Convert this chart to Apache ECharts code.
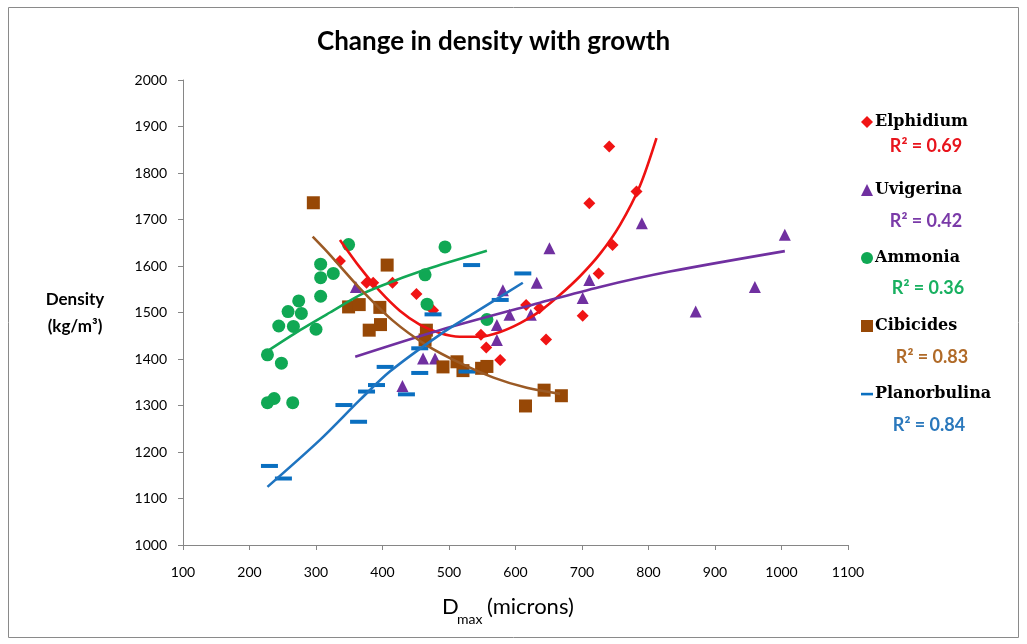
<!DOCTYPE html>
<html>
<head>
<meta charset="utf-8">
<script src="https://cdn.jsdelivr.net/npm/echarts@6/dist/echarts.min.js"></script>
<style>html,body{margin:0;padding:0;background:#fff;}#c{width:1027px;height:644px;}</style>
</head>
<body>
<div id="c"></div>
<script>
// ---------- data ----------
const titleText = 'Change in density with growth';
const speciesNames = ['Elphidium', 'Uvigerina', 'Ammonia', 'Cibicides', 'Planorbulina'];
const r2Labels = ['R² = 0.69', 'R² = 0.42', 'R² = 0.36', 'R² = 0.83', 'R² = 0.84'];

const elphidium = [[336,1611],[376,1564],[386,1564],[415,1564],[451,1540],[476,1505],[548,1452],[556,1425],[577,1398],[616,1516],[636,1509],[646,1442],[701,1493],[711,1735],[725,1584],[741,1857],[746,1645],[782,1760]];
const uvigerina = [[360,1555],[430,1342],[461,1401],[479,1401],[572,1441],[572,1473],[581,1548],[591,1495],[623,1495],[632,1564],[651,1638],[701,1531],[711,1570],[790,1692],[871,1502],[960,1555],[1005,1667]];
const ammonia = [[227,1409],[227,1306],[237,1315],[244,1471],[248,1391],[258,1502],[265,1306],[266,1470],[274,1525],[278,1498],[300,1464],[307,1604],[307,1575],[307,1535],[326,1584],[349,1646],[464,1581],[467,1518],[494,1641],[557,1485]];
const cibicides = [[296,1736],[349,1512],[365,1517],[380,1462],[396,1511],[397,1474],[407,1602],[464,1441],[466,1462],[491,1383],[512,1394],[521,1375],[549,1380],[557,1384],[615,1299],[643,1333],[669,1321]];
const planorbulina = [[230,1170],[251,1143],[342,1301],[364,1265],[376,1330],[391,1344],[404,1383],[436,1324],[456,1423],[456,1370],[476,1496],[527,1373],[534,1602],[577,1527],[611,1584]];

// trendlines
const elphidiumTrend = [[336,1656],[366,1597],[396,1546],[426,1504],[456,1474],[486,1456],[516,1448],[547,1448],[577,1458],[607,1477],[637,1503],[667,1538],[697,1578],[727,1626],[757,1688],[787,1772],[812,1875]];
const uvigerinaTrend = [[359,1405],[486,1462],[637,1521],[727,1555],[832,1588],[1005,1632]];
const ammoniaTrend = [[226,1416],[276,1462],[321,1500],[371,1541],[421,1570],[471,1595],[502,1609],[557,1633]];
const cibicidesTrend = [[295,1663],[321,1624],[366,1552],[416,1482],[466,1430],[517,1391],[567,1360],[617,1338],[667,1325]];
const planorbulinaTrend = [[227,1125],[306,1226],[366,1312],[411,1373],[486,1452],[537,1498],[611,1564]];

const xTicks = {min: 100, max: 1100, interval: 100};
const yTicks = {min: 1000, max: 2000, interval: 100};

// ---------- styling ----------
const markerColors = ['#f01414', '#7030a0', '#10a854', '#974806', '#0a6fc0'];
const lineColors   = ['#ee1111', '#7030a0', '#12a856', '#9b5a25', '#1f74c0'];
const r2Colors     = ['#e8141c', '#7a3aa8', '#18b060', '#b06a28', '#2a78bc'];
const symbols = ['diamond', 'triangle', 'circle', 'rect', 'rect'];
const symbolSizes = [12, 12, 13, 13, [17, 4]];
const dashIcon = 'path://M0,0L0,0M0,12L0,12M0,4.8h12v2.6h-12z';
const legendIcons = ['diamond', 'triangle', 'circle', 'rect', dashIcon];

const pointSets = [elphidium, uvigerina, ammonia, cibicides, planorbulina];
const trendSets = [elphidiumTrend, uvigerinaTrend, ammoniaTrend, cibicidesTrend, planorbulinaTrend];

const axisGray = '#868686';
const sansFont = 'Lato';

const series = [];
speciesNames.forEach((n, i) => {
  series.push({
    name: n, type: 'scatter', data: pointSets[i],
    symbol: symbols[i], symbolSize: symbolSizes[i],
    itemStyle: {color: markerColors[i], opacity: 1},
    z: 2
  });
});
speciesNames.forEach((n, i) => {
  series.push({
    name: n + ' trend', type: 'line', data: trendSets[i],
    smooth: 0.3, showSymbol: false, symbol: 'none',
    lineStyle: {color: lineColors[i], width: 2.6},
    silent: true, z: 3
  });
});

const legendTop = 107;
const legendStep = 68;
const r2Y = [146, 221, 288, 357, 425];
const r2X = [926, 926, 928, 932, 929];

const graphics = [
  {type: 'rect', shape: {x: 8.5, y: 7.5, width: 1010, height: 630}, style: {fill: 'none', stroke: '#8a8a8a', lineWidth: 1}, silent: true},
  {type: 'text', left: 519 - 202, top: 29, style: {text: titleText, font: 'bold 26px ' + sansFont, fill: '#000'}},
  {type: 'text', x: 75, y: 300, style: {text: 'Density', font: 'bold 17px ' + sansFont, fill: '#000', textAlign: 'center', textVerticalAlign: 'middle'}},
  {type: 'text', x: 75, y: 327, style: {text: '(kg/m³)', font: 'bold 17px ' + sansFont, fill: '#000', textAlign: 'center', textVerticalAlign: 'middle'}},
  {type: 'text', x: 442, y: 607, style: {text: 'D', font: '22px ' + sansFont, fill: '#000', textVerticalAlign: 'middle'}},
  {type: 'text', x: 457, y: 619, style: {text: 'max', font: '14px ' + sansFont, fill: '#000', textVerticalAlign: 'middle'}},
  {type: 'text', x: 487, y: 607, style: {text: '(microns)', font: '22px ' + sansFont, fill: '#000', textVerticalAlign: 'middle'}}
];
r2Labels.forEach((t, i) => {
  graphics.push({type: 'text', x: r2X[i], y: r2Y[i], style: {text: t, font: 'bold 18px ' + sansFont, fill: r2Colors[i], textAlign: 'center', textVerticalAlign: 'middle'}});
});

const plain = v => String(v);

const option = {
  animation: false,
  backgroundColor: '#fff',
  grid: {left: 183, right: 179, top: 80, bottom: 99, containLabel: false},
  xAxis: {
    type: 'value', min: xTicks.min, max: xTicks.max, interval: xTicks.interval,
    axisLine: {show: true, onZero: false, lineStyle: {color: axisGray, width: 1}},
    axisTick: {show: true, inside: false, length: 5, lineStyle: {color: axisGray}},
    axisLabel: {margin: 20, fontSize: 14, color: '#000', fontFamily: sansFont, formatter: plain},
    splitLine: {show: false}
  },
  yAxis: {
    type: 'value', min: yTicks.min, max: yTicks.max, interval: yTicks.interval,
    axisLine: {show: true, onZero: false, lineStyle: {color: axisGray, width: 1}},
    axisTick: {show: true, inside: false, length: 5, lineStyle: {color: axisGray}},
    axisLabel: {margin: 16, fontSize: 14, color: '#000', fontFamily: sansFont, formatter: plain},
    splitLine: {show: false}
  },
  legend: {
    orient: 'vertical', left: 856, top: legendTop,
    itemWidth: 12, itemHeight: 12, itemGap: legendStep - 20,
    selectedMode: false,
    textStyle: {fontFamily: 'DejaVu Serif', fontWeight: 'bold', fontSize: 16, color: '#000', lineHeight: 20, padding: [0, 0, 0, -3]},
    data: speciesNames.map((n, i) => ({name: n, icon: legendIcons[i], itemStyle: {color: markerColors[i]}}))
  },
  graphic: graphics,
  series: series
};

const chart = echarts.init(document.getElementById('c'), null, {renderer: 'canvas'});
chart.setOption(option);
</script>
</body>
</html>
